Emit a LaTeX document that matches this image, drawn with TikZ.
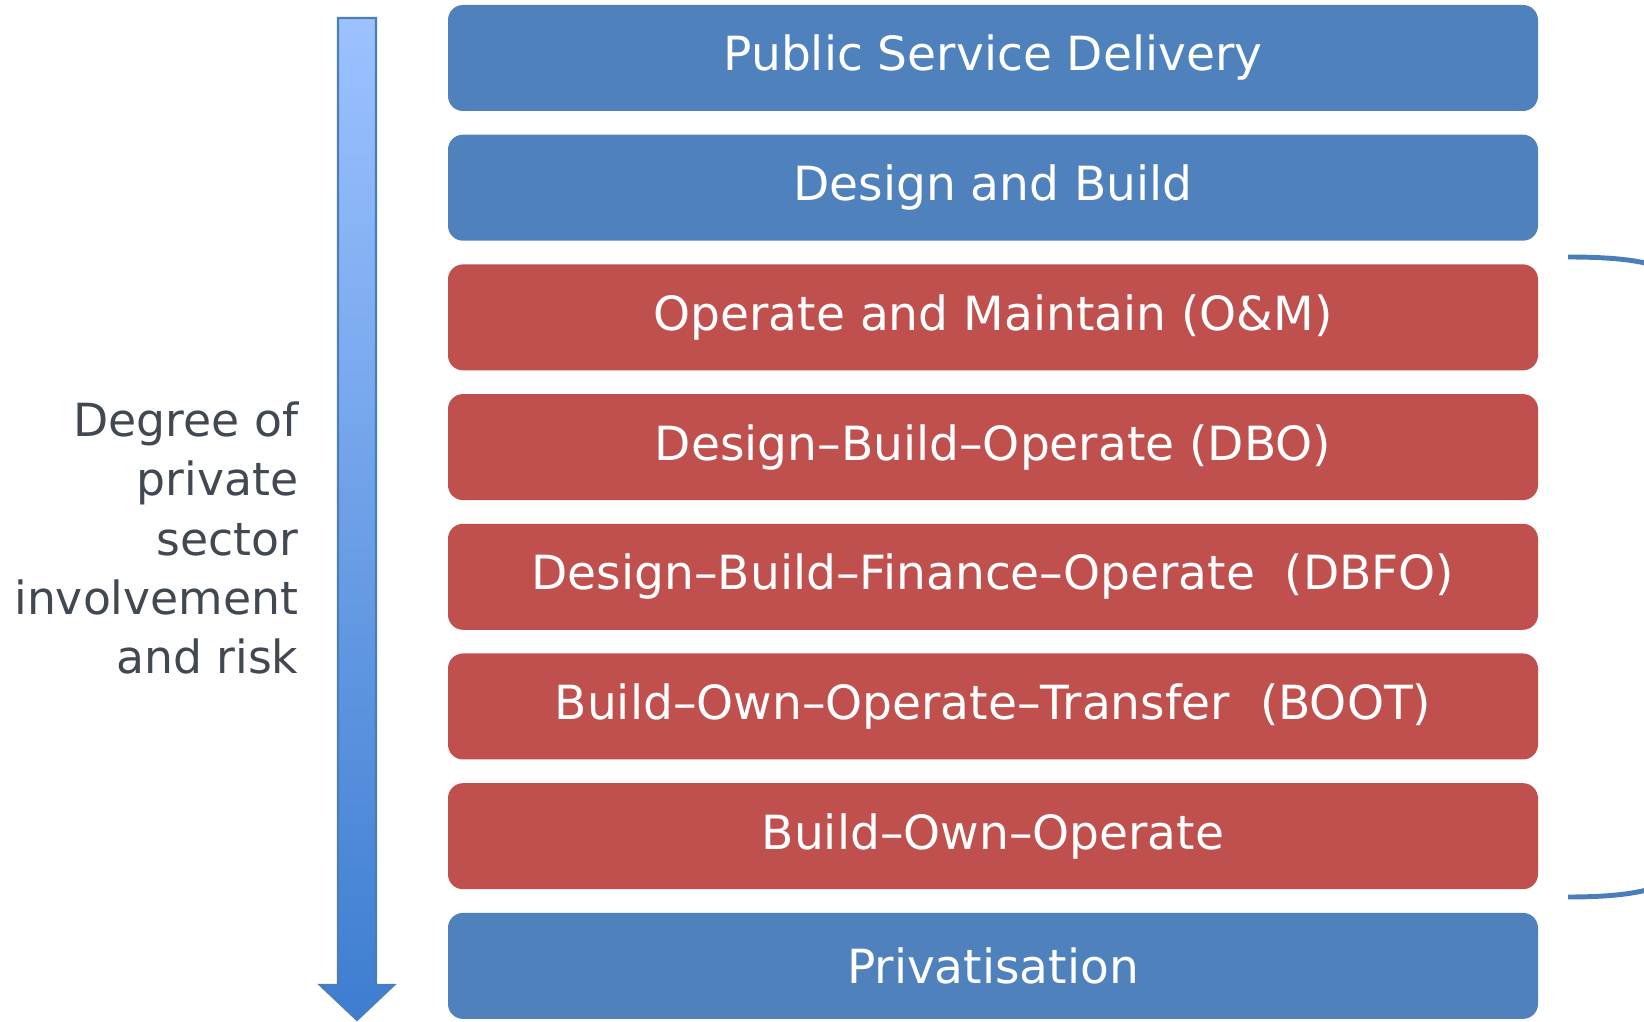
\documentclass[tikz,border=0pt]{standalone}
\usepackage{fontspec}
\setmainfont{DejaVu Sans}
\usetikzlibrary{positioning}
\definecolor{stageblue}{RGB}{79,129,189}
\definecolor{stagered}{RGB}{192,80,77}
\definecolor{labelgrey}{RGB}{65,72,82}
\definecolor{arrowtop}{RGB}{156,194,255}
\definecolor{arrowbottom}{RGB}{61,125,208}
\definecolor{arrowedge}{RGB}{74,126,187}

\tikzset{
  stage/.style={rectangle, rounded corners=0.15cm, outer sep=0pt, minimum width=10.9cm, minimum height=1.06cm, text=white, font=\fontsize{13.4}{16}\selectfont},
  publicstage/.style={stage, fill=stageblue},
  privatestage/.style={stage, fill=stagered}
}

\begin{document}
\begin{tikzpicture}
  \useasboundingbox (0,0) rectangle (16.44,10.21);

  % delivery models, from public to private
  \node[publicstage] (psd) at (9.93,9.63) {Public Service Delivery};
  \node[publicstage, below=0.237cm of psd] (db) {Design and Build};
  \node[privatestage, below=0.237cm of db] (om) {Operate and Maintain (O\&M)};
  \node[privatestage, below=0.237cm of om] (dbo) {Design--Build--Operate (DBO)};
  \node[privatestage, below=0.237cm of dbo] (dbfo) {Design--Build--Finance--Operate\ \ (DBFO)};
  \node[privatestage, below=0.237cm of dbfo] (boot) {Build--Own--Operate--Transfer\ \ (BOOT)};
  \node[privatestage, below=0.237cm of boot] (boo) {Build--Own--Operate};
  \node[publicstage, below=0.237cm of boo] (priv) {Privatisation};

  % degree arrow
  \shadedraw[top color=arrowtop, bottom color=arrowbottom, draw=arrowedge, line width=0.6pt]
    (3.38,10.03) -- (3.76,10.03) -- (3.76,0.36) -- (3.94,0.36) -- (3.57,0.01)
    -- (3.20,0.36) -- (3.38,0.36) -- cycle;

  \node[align=right, anchor=east, inner sep=0pt, text=labelgrey, font=\fontsize{13}{16.8}\selectfont] (degree) at (2.99,4.83)
    {Degree of\\private\\sector\\involvement\\and risk};

  % bracket round the PPP models
  \draw[arrowedge, line width=1.4pt] (15.68,7.64) .. controls (16.6,7.64) and (16.9,7.5) .. (16.95,7.1)
    -- (16.95,1.8) .. controls (16.9,1.4) and (16.6,1.24) .. (15.68,1.24);
\end{tikzpicture}
\end{document}
